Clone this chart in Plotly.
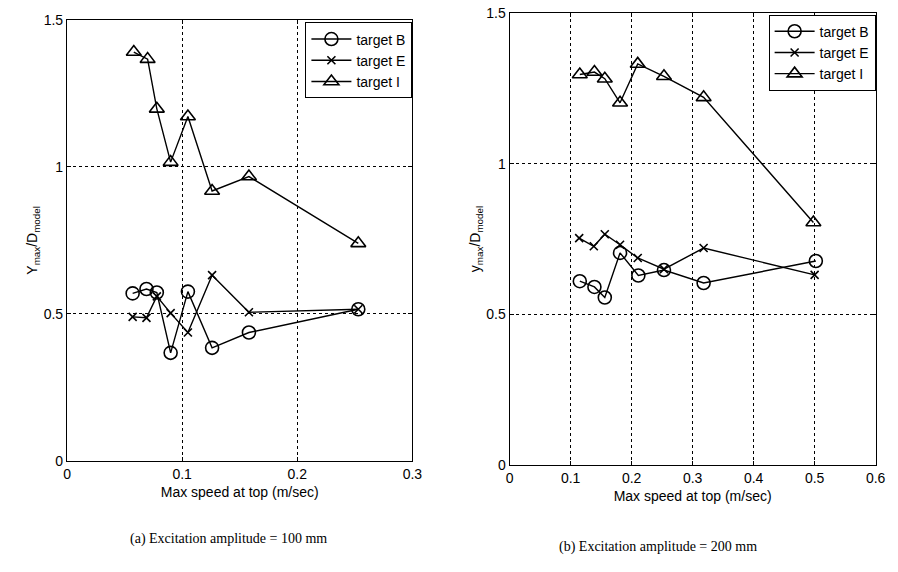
import plotly.graph_objects as go

# ---- data: (a) Excitation amplitude = 100 mm ----
a_B_x = [0.057, 0.069, 0.078, 0.090, 0.105, 0.126, 0.158, 0.253]
a_B_y = [0.57, 0.585, 0.573, 0.368, 0.576, 0.385, 0.437, 0.516]
a_E_x = [0.057, 0.069, 0.078, 0.090, 0.105, 0.126, 0.158, 0.253]
a_E_y = [0.49, 0.487, 0.56, 0.503, 0.437, 0.632, 0.506, 0.516]
a_I_x = [0.058, 0.070, 0.078, 0.090, 0.105, 0.126, 0.158, 0.253]
a_I_y = [1.39, 1.366, 1.197, 1.016, 1.171, 0.918, 0.967, 0.74]

# ---- data: (b) Excitation amplitude = 200 mm ----
b_B_x = [0.115, 0.139, 0.156, 0.181, 0.211, 0.253, 0.318, 0.502]
b_B_y = [0.61, 0.591, 0.556, 0.704, 0.629, 0.647, 0.604, 0.677]
b_E_x = [0.114, 0.138, 0.156, 0.181, 0.210, 0.253, 0.318, 0.500]
b_E_y = [0.753, 0.726, 0.766, 0.731, 0.687, 0.65, 0.72, 0.631]
b_I_x = [0.115, 0.139, 0.156, 0.181, 0.210, 0.253, 0.318, 0.498]
b_I_y = [1.296, 1.304, 1.282, 1.202, 1.331, 1.29, 1.22, 0.805]

names = ["target B", "target E", "target I"]
symbols = ["circle-open", "x-thin-open", "triangle-up-open"]
sizes = [13, 8, 13]

FONT = "Liberation Sans, Arial, sans-serif"
SERIF = "Liberation Serif, Times New Roman, serif"
fig = go.Figure()

def add(xs, ys, i, xa, ya, leg):
    fig.add_trace(go.Scatter(
        x=xs, y=ys, mode="lines+markers", name=names[i],
        line=dict(color="black", width=1.4),
        marker=dict(symbol=symbols[i], size=sizes[i], color="black",
                    line=dict(color="black", width=1.6)),
        xaxis=xa, yaxis=ya, legend=leg))

for i, (xs, ys) in enumerate([(a_B_x, a_B_y), (a_E_x, a_E_y), (a_I_x, a_I_y)]):
    add(xs, ys, i, "x", "y", "legend")
for i, (xs, ys) in enumerate([(b_B_x, b_B_y), (b_E_x, b_E_y), (b_I_x, b_I_y)]):
    add(xs, ys, i, "x2", "y2", "legend2")

ax_common = dict(showline=True, linecolor="black", linewidth=1.2, mirror="ticks",
                 ticks="inside", ticklen=4, tickcolor="black",
                 showgrid=True, gridcolor="black", griddash="dot", gridwidth=1,
                 zeroline=False, tickfont=dict(family=FONT, size=14, color="black"))

title_font = dict(family=FONT, size=14, color="black")

legend_common = dict(bordercolor="black", borderwidth=1, bgcolor="white",
                     font=dict(family=FONT, size=14, color="black"),
                     xanchor="right", yanchor="top", tracegroupgap=0,
                     itemwidth=40)

fig.update_layout(
    width=898, height=572, margin=dict(l=0, r=0, t=0, b=0),
    plot_bgcolor="white", paper_bgcolor="white", showlegend=True,
    xaxis=dict(domain=[0.0713, 0.462], range=[0, 0.3], dtick=0.1, anchor="y",
               title=dict(text="Max speed at top (m/sec)", standoff=6, font=title_font),
               **ax_common),
    yaxis=dict(domain=[0.185, 0.979], range=[0, 1.5], dtick=0.5, anchor="x",
               title=dict(text="Y<sub>max</sub>/D<sub>model</sub>", standoff=2, font=title_font),
               **ax_common),
    xaxis2=dict(domain=[0.572, 0.986], range=[0, 0.6], dtick=0.1, anchor="y2",
                title=dict(text="Max speed at top (m/sec)", standoff=6, font=title_font),
                **ax_common),
    yaxis2=dict(domain=[0.178, 0.991], range=[0, 1.5], dtick=0.5, anchor="x2",
                title=dict(text="y<sub>max</sub>/D<sub>model</sub>", standoff=2, font=title_font),
                **ax_common),
    legend=dict(x=0.462, y=0.974, **legend_common),
    legend2=dict(x=0.986, y=0.988, **legend_common),
)

fig.add_annotation(text="(a) Excitation amplitude = 100 mm", xref="paper", yref="paper",
                   x=228 / 898, y=1 - 546 / 572, xanchor="center", yanchor="middle",
                   showarrow=False, font=dict(family=SERIF, size=14, color="black"))
fig.add_annotation(text="(b) Excitation amplitude = 200 mm", xref="paper", yref="paper",
                   x=664 / 898, y=1 - 554 / 572, xanchor="center", yanchor="middle",
                   showarrow=False, font=dict(family=SERIF, size=14, color="black"))

fig.write_html("out.html")
